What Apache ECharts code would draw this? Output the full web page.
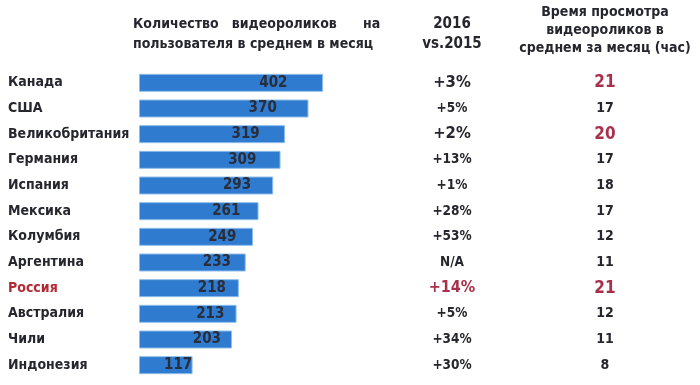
<!DOCTYPE html>
<html><head><meta charset="utf-8">
<script src="https://cdn.jsdelivr.net/npm/echarts@6/dist/echarts.min.js"></script>
<style>html,body{margin:0;padding:0;background:#fff}#c{width:700px;height:385px}</style>
</head><body><div id="c"></div>
<script>
const countries = ['Канада','США','Великобритания','Германия','Испания','Мексика','Колумбия','Аргентина','Россия','Австралия','Чили','Индонезия'];
const videosPerUser = [402,370,319,309,293,261,249,233,218,213,203,117];
const change2016vs2015 = ['+3%','+5%','+2%','+13%','+1%','+28%','+53%','N/A','+14%','+5%','+34%','+30%'];
const watchHours = [21,17,20,17,18,17,12,11,21,12,11,8];

const FONT = "'DejaVu Sans Condensed','Liberation Sans Narrow',sans-serif";
const DARK = '#26262e';
const RED = '#a8304a';
const highlightCountry = 'Россия';
const bigChange = ['Канада','Великобритания'];
const redHours = ['Канада','Великобритания','Россия'];

const chart = echarts.init(document.getElementById('c'));
chart.setOption({
  animation:false,
  backgroundColor:'#fff',
  textStyle:{fontFamily:FONT},
  title:[
    {text:'Количество   видеороликов      на\nпользователя в среднем в месяц', left:133, top:14, padding:0,
     textStyle:{fontFamily:FONT,fontSize:14,fontWeight:'bold',color:DARK,lineHeight:20}},
    {text:'2016\nvs.2015', left:452, textAlign:'center', top:14, padding:0,
     textStyle:{fontFamily:FONT,fontSize:15,fontWeight:'bold',color:DARK,lineHeight:20}},
    {text:'Время просмотра\nвидеороликов в\nсреднем за месяц (час)', left:605, textAlign:'center', top:3, padding:0,
     textStyle:{fontFamily:FONT,fontSize:14,fontWeight:'bold',color:DARK,lineHeight:18}}
  ],
  grid:{left:139, top:70, width:229, bottom:7},
  xAxis:{type:'value', min:0, max:500, show:false},
  yAxis:[
    {type:'category', inverse:true, data:countries,
     axisLine:{show:false}, axisTick:{show:false},
     axisLabel:{align:'left', margin:131,
       formatter:(v)=> v===highlightCountry ? '{r|'+v+'}' : '{n|'+v+'}',
       rich:{
         n:{fontFamily:FONT,fontSize:14,fontWeight:'bold',color:DARK},
         r:{fontFamily:FONT,fontSize:14,fontWeight:'bold',color:'#b22a35'}
       }}},
    {type:'category', inverse:true, data:countries, position:'right',
     axisLine:{show:false}, axisTick:{show:false},
     axisLabel:{align:'center', margin:84,
       formatter:(v,i)=>{
         const t = change2016vs2015[i];
         if(v===highlightCountry) return '{r|'+t+'}';
         if(bigChange.indexOf(v)>=0) return '{b|'+t+'}';
         return '{n|'+t+'}';
       },
       rich:{
         n:{fontFamily:FONT,fontSize:13.5,fontWeight:'bold',color:DARK},
         b:{fontFamily:FONT,fontSize:16.5,fontWeight:'bold',color:DARK},
         r:{fontFamily:FONT,fontSize:16,fontWeight:'bold',color:RED}
       }}},
    {type:'category', inverse:true, data:countries, position:'right',
     axisLine:{show:false}, axisTick:{show:false},
     axisLabel:{align:'center', margin:237,
       formatter:(v,i)=>{
         const t = watchHours[i];
         if(redHours.indexOf(v)>=0) return '{r|'+t+'}';
         return '{n|'+t+'}';
       },
       rich:{
         n:{fontFamily:FONT,fontSize:14,fontWeight:'bold',color:DARK},
         r:{fontFamily:FONT,fontSize:17,fontWeight:'bold',color:RED}
       }}}
  ],
  series:[{
    type:'bar', data:videosPerUser, barWidth:18, yAxisIndex:0,
    itemStyle:{color:'#2e7bcf', borderColor:'#8fbde8', borderWidth:1},
    label:{show:true, position:['73%','50%'], align:'center', verticalAlign:'middle',
      fontFamily:FONT, fontSize:15, fontWeight:'bold', color:'#2a2d3a'}
  }]
});
</script></body></html>
